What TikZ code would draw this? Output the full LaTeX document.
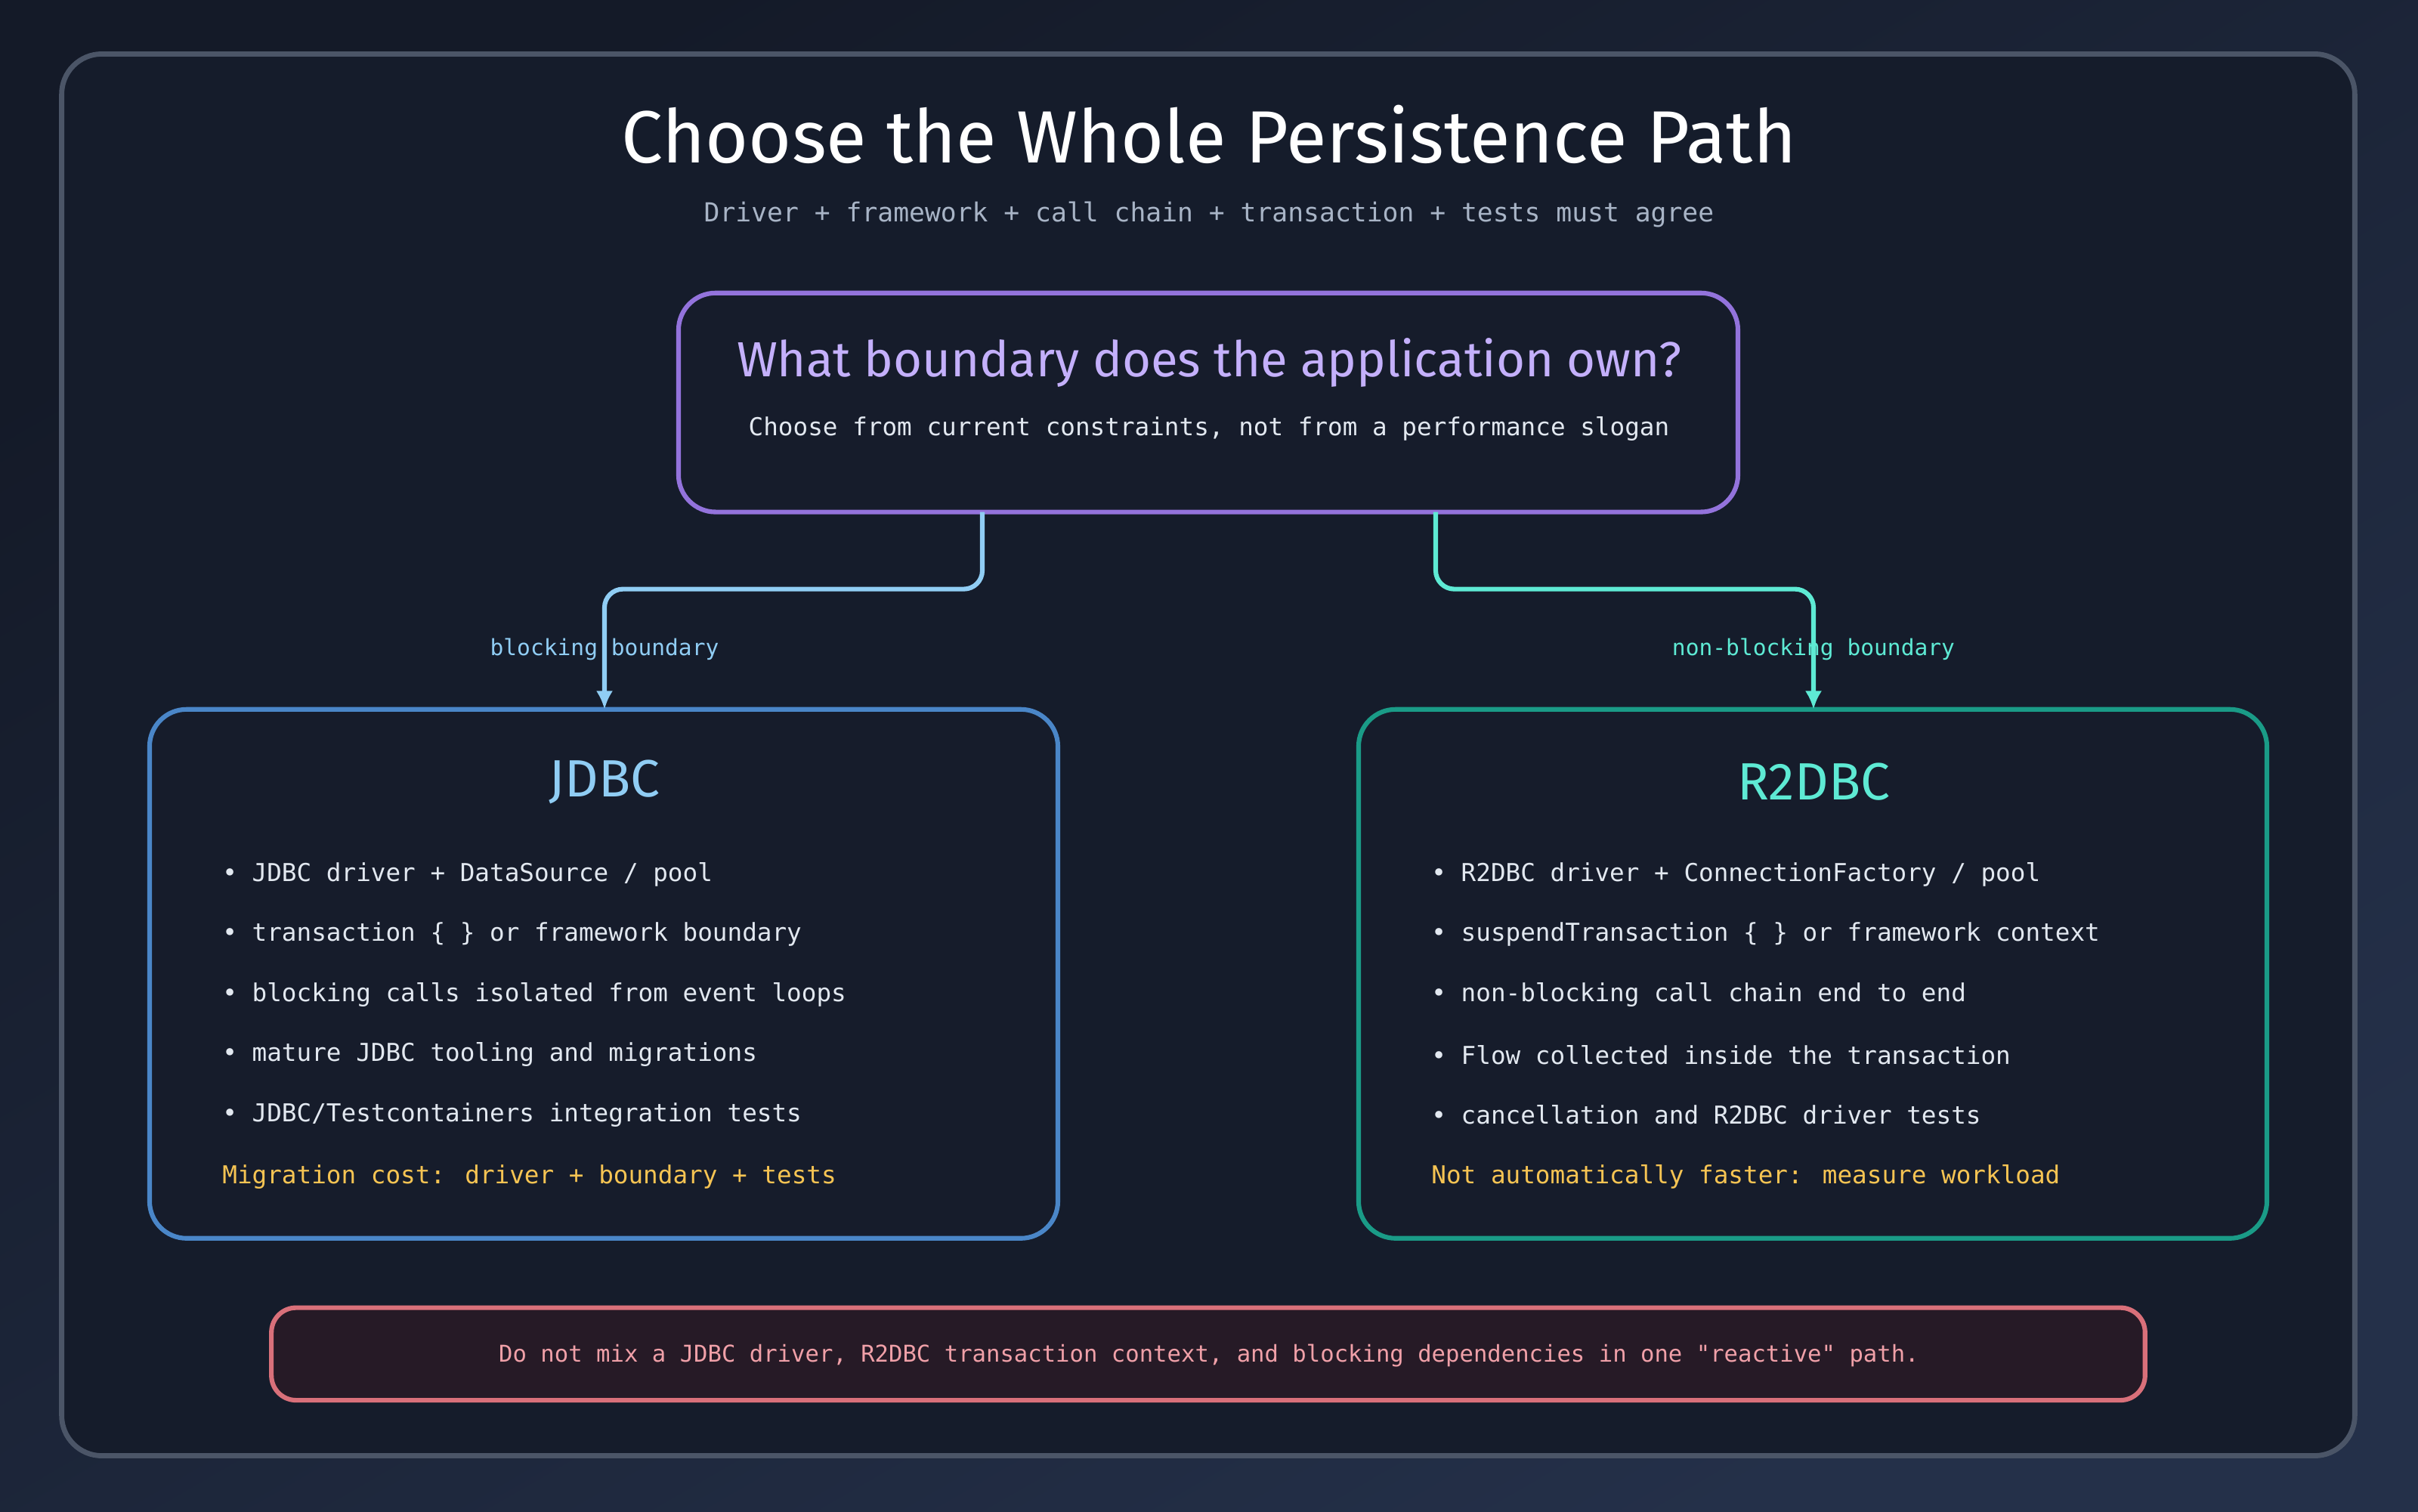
\documentclass[tikz,border=0pt]{standalone}
\usepackage{fontspec}
\setmainfont{DejaVu Sans Mono}[Ligatures=TeXOff]
\newfontfamily\hand{Fira Sans}
\newcommand{\fsz}[1]{\fontsize{\dimexpr #1\dimexpr 2.845pt\relax\relax}{\dimexpr #1\dimexpr 3.4pt\relax\relax}\selectfont}
\definecolor{bgA}{HTML}{141a28}
\definecolor{bgB}{HTML}{243049}
\definecolor{frame}{HTML}{4b5567}
\definecolor{panel}{HTML}{161c2b}
\definecolor{purp}{HTML}{9373dc}
\definecolor{purpT}{HTML}{c4b0fb}
\definecolor{blueS}{HTML}{4a86c8}
\definecolor{blueT}{HTML}{90cdf4}
\definecolor{tealS}{HTML}{1a9b87}
\definecolor{tealT}{HTML}{5eead4}
\definecolor{yel}{HTML}{f6c453}
\definecolor{redS}{HTML}{d9707a}
\definecolor{redF}{HTML}{261a26}
\definecolor{redT}{HTML}{f0a0a8}
\definecolor{txt}{HTML}{e2e8f0}
\definecolor{sub}{HTML}{a8b4c6}
\usetikzlibrary{arrows.meta}
\tikzset{
 x=0.1cm,y=-0.1cm,
 box/.style={line width=0.9cm/3, rounded corners=2.4cm, fill=panel},
 conn/.style={line width=0.9cm/3, rounded corners=1.2cm, -{Latex[length=1.2cm,width=1.1cm]}},
 bul/.style={anchor=west, text=txt, font=\fsz{16}},
 lab/.style={font=\fsz{14.5}},
}
\begin{document}
\begin{tikzpicture}
\shade[top color=bgA, bottom color=bgB, shading angle=30] (0,0) rectangle (1568,980);
\useasboundingbox (0,0) rectangle (1568,980);
\draw[draw=frame, line width=1.0cm/3, rounded corners=2.6cm, fill=bgA!92!bgB] (40,35) rectangle (1527,944);
\node[text=white, font=\hand\fsz{48}] (title) at (784,87) {Choose the Whole Persistence Path};
\node[text=sub, font=\fsz{17}] (subt) at (784,139) {Driver + framework + call chain + transaction + tests must agree};

\draw[box, draw=purp] (440,190) rectangle (1127,332);
\node[text=purpT, font=\hand\fsz{32}] (q) at (784,235) {What boundary does the application own?};
\node[text=txt, font=\fsz{16}] (qs) at (784,278) {Choose from current constraints, not from a performance slogan};
\coordinate (qL) at (637,332); \coordinate (qR) at (931,332);

\draw[box, draw=blueS] (97,460) rectangle (686,803);
\coordinate (jT) at (392,460);
\node[text=blueT, font=\hand\fsz{34}] (jt) at (392,507) {JDBC};
\node[bul] (j1) at (143,567) {• JDBC driver + DataSource / pool};
\node[bul] (j2) at (143,606) {• transaction \{ \} or framework boundary};
\node[bul] (j3) at (143,645) {• blocking calls isolated from event loops};
\node[bul] (j4) at (143,684) {• mature JDBC tooling and migrations};
\node[bul] (j5) at (143,723) {• JDBC/Testcontainers integration tests};
\node[bul, text=yel] (j6) at (143,763) {Migration cost: driver + boundary + tests};

\draw[box, draw=tealS] (881,460) rectangle (1470,803);
\coordinate (rT) at (1176,460);
\node[text=tealT, font=\hand\fsz{34}] (rt) at (1176,507) {R2DBC};
\node[bul] (r1) at (927,567) {• R2DBC driver + ConnectionFactory / pool};
\node[bul] (r2) at (927,606) {• suspendTransaction \{ \} or framework context};
\node[bul] (r3) at (927,645) {• non-blocking call chain end to end};
\node[bul] (r4) at (927,684) {• Flow collected inside the transaction};
\node[bul] (r5) at (927,723) {• cancellation and R2DBC driver tests};
\node[bul, text=yel] (r6) at (927,763) {Not automatically faster: measure workload};

\draw[conn, blueT] (qL) -- (637,382) -- (392,382) -- (jT);
\draw[conn, tealT] (qR) -- (931,382) -- (1176,382) -- (rT);
\node[lab, text=blueT] (lb) at (392,421) {blocking boundary};
\node[lab, text=tealT] (lr) at (1176,421) {non-blocking boundary};

\draw[line width=0.9cm/3, rounded corners=1.6cm, draw=redS, fill=redF] (176,848) rectangle (1391,908);
\node[text=redT, font=\fsz{15}] (warn) at (784,879) {Do not mix a JDBC driver, R2DBC transaction context, and blocking dependencies in one "reactive" path.};
\end{tikzpicture}
\end{document}
